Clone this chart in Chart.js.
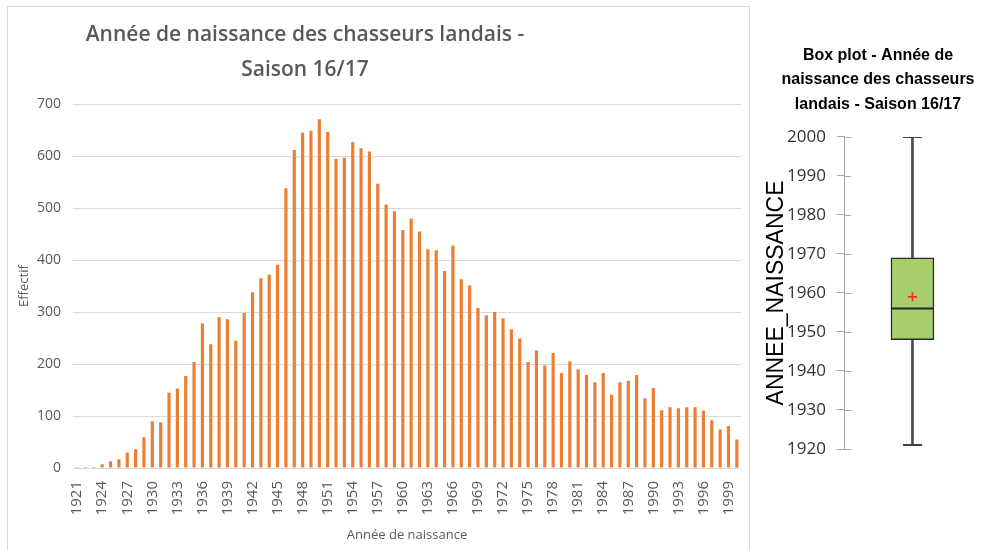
<!DOCTYPE html>
<html>
<head>
<meta charset="utf-8">
<script src="https://cdn.jsdelivr.net/npm/chart.js@4.4.1/dist/chart.umd.min.js"></script>
<style>
  html, body { margin: 0; padding: 0; background: #ffffff; }
  body { width: 992px; height: 550px; position: relative; overflow: hidden; }
  #leftBox { position: absolute; left: 7px; top: 6px; width: 741px; height: 560px; border: 1px solid #d9d9d9; }
  #leftBox canvas { position: absolute; left: 0; top: 0; }
  #rightBox { position: absolute; left: 752px; top: 0; width: 240px; height: 550px; }
</style>
</head>
<body>
<div id="leftBox"><canvas id="histo" width="741" height="543"></canvas></div>
<div id="rightBox"><canvas id="boxplot" width="240" height="550"></canvas></div>
<script>
// ---------- Data ----------
const years = ['1921','1922','1923','1924','1925','1926','1927','1928','1929','1930',
  '1931','1932','1933','1934','1935','1936','1937','1938','1939','1940',
  '1941','1942','1943','1944','1945','1946','1947','1948','1949','1950',
  '1951','1952','1953','1954','1955','1956','1957','1958','1959','1960',
  '1961','1962','1963','1964','1965','1966','1967','1968','1969','1970',
  '1971','1972','1973','1974','1975','1976','1977','1978','1979','1980',
  '1981','1982','1983','1984','1985','1986','1987','1988','1989','1990',
  '1991','1992','1993','1994','1995','1996','1997','1998','1999','2000'];

const effectif = [2, 2, 2, 7, 13, 17, 30, 36, 59, 90,
  88, 145, 153, 177, 204, 278, 238, 290, 286, 245,
  298, 338, 365, 372, 391, 538, 612, 645, 649, 671,
  647, 595, 597, 627, 615, 609, 547, 507, 494, 458,
  480, 455, 421, 419, 379, 428, 363, 351, 308, 294,
  300, 288, 267, 249, 204, 226, 197, 221, 183, 205,
  190, 179, 165, 183, 141, 165, 168, 179, 134, 154,
  111, 117, 115, 117, 117, 110, 92, 74, 81, 55];

const shownYearLabels = ['1921','1924','1927','1930','1933','1936','1939','1942','1945','1948',
  '1951','1954','1957','1960','1963','1966','1969','1972','1975','1978',
  '1981','1984','1987','1990','1993','1996','1999'];

const histoTitle = ['Année de naissance des chasseurs landais -', 'Saison 16/17'];
const histoXTitle = 'Année de naissance';
const histoYTitle = 'Effectif';

// Box plot statistics (year of birth)
const boxMin = 1921;
const boxQ1 = 1948;
const boxMedian = 1956;
const boxMean = 1959;
const boxQ3 = 1969;
const boxMax = 2000;
const boxTitle = ['Box plot - Année de', 'naissance des chasseurs', 'landais - Saison 16/17'];
const boxYTitle = 'ANNEE_NAISSANCE';

// ---------- Left chart: histogram ----------
const GREY = '#595959';
const OPEN = "'Open Sans', 'DejaVu Sans', sans-serif";
const ARIAL = "'Liberation Sans', Arial, sans-serif";

const shiftTitle = {
  id: 'shiftTitle',
  afterLayout(chart) {
    const t = chart.titleBlock;
    if (t) { t.left = 0; t.right = 594; }
  }
};

new Chart(document.getElementById('histo'), {
  type: 'bar',
  data: {
    labels: years,
    datasets: [{
      data: effectif,
      backgroundColor: '#ED7D31',
      barPercentage: 0.38,
      categoryPercentage: 1
    }]
  },
  options: {
    responsive: false,
    animation: false,
    layout: { padding: { left: 0, right: 8, top: 0, bottom: 0 } },
    plugins: {
      legend: { display: false },
      tooltip: { enabled: false },
      title: {
        display: true,
        text: histoTitle,
        color: GREY,
        font: { family: OPEN, size: 21, weight: '600', lineHeight: 1.67 },
        padding: { top: 10, bottom: 17 }
      }
    },
    scales: {
      x: {
        grid: { display: false },
        border: { display: false },
        ticks: {
          autoSkip: false,
          minRotation: 90,
          maxRotation: 90,
          padding: 5,
          color: GREY,
          font: { family: OPEN, size: 15 },
          callback: function (value, index) {
            const lab = years[index];
            return shownYearLabels.includes(lab) ? lab : '';
          }
        },
        title: {
          display: true,
          text: histoXTitle,
          color: GREY,
          font: { family: OPEN, size: 13 },
          padding: { top: 0, bottom: 7 }
        },
        afterFit(scale) {
          scale.height = 82;
          scale.paddingLeft = 0;
          scale.paddingRight = 0;
        }
      },
      y: {
        min: 0,
        max: 700,
        ticks: { stepSize: 100, color: GREY, font: { family: OPEN, size: 14 }, padding: 12 },
        grid: { color: '#d9d9d9', drawTicks: false },
        border: { display: false },
        title: {
          display: true,
          text: histoYTitle,
          color: GREY,
          font: { family: OPEN, size: 13 },
          padding: { top: 8, bottom: 0 }
        },
        afterFit(scale) { scale.width = 65; }
      }
    }
  },
  plugins: [shiftTitle]
});

// ---------- Right chart: box plot ----------
const tickExtension = {
  id: 'tickExtension',
  afterDraw(chart) {
    const s = chart.scales.y;
    const ctx = chart.ctx;
    ctx.save();
    ctx.strokeStyle = '#a6a6a6';
    ctx.lineWidth = 1;
    s.ticks.forEach(t => {
      const y = Math.round(s.getPixelForValue(t.value)) + 0.5;
      ctx.beginPath();
      ctx.moveTo(s.right, y);
      ctx.lineTo(s.right + 7, y);
      ctx.stroke();
    });
    ctx.restore();
  }
};

new Chart(document.getElementById('boxplot'), {
  type: 'bar',
  data: {
    datasets: [
      { type: 'scatter', data: [{ x: 0, y: boxMean }], pointStyle: 'cross', pointRadius: 4.5,
        borderColor: '#ff2a2a', backgroundColor: '#ff2a2a', borderWidth: 1.6, order: 0 },
      { type: 'scatter', data: [{ x: 0, y: boxMedian }], pointStyle: 'line', pointRadius: 21.5,
        borderColor: '#262626', borderWidth: 2, order: 1 },
      { type: 'bar', data: [{ x: 0, y: [boxQ1, boxQ3] }], backgroundColor: '#a6cf6c',
        borderColor: '#2b2b2b', borderWidth: 1.5, borderSkipped: false, barThickness: 43, grouped: false, order: 2 },
      { type: 'scatter', data: [{ x: 0, y: boxMin }, { x: 0, y: boxMax }], pointStyle: 'line', pointRadius: 9.5,
        borderColor: '#404040', borderWidth: 2, order: 3 },
      { type: 'bar', data: [{ x: 0, y: [boxMin, boxMax] }], backgroundColor: '#4a4a4a',
        barThickness: 2, grouped: false, order: 4 }
    ]
  },
  options: {
    responsive: false,
    animation: false,
    layout: { padding: { left: 12, right: 0, top: 0, bottom: 101 } },
    plugins: {
      legend: { display: false },
      tooltip: { enabled: false },
      title: {
        display: true,
        text: boxTitle,
        color: '#000000',
        font: { family: ARIAL, size: 16, weight: 'bold', lineHeight: 1.53 },
        padding: { top: 43, bottom: 20.5 }
      }
    },
    scales: {
      x: { type: 'linear', min: -1, max: 0.74, display: false },
      y: {
        min: 1920,
        max: 2000,
        ticks: {
          stepSize: 10,
          color: '#333333',
          font: { family: OPEN, size: 17 },
          padding: 11,
          callback: function (value) { return String(value); }
        },
        grid: { drawOnChartArea: false, drawTicks: true, tickLength: 7, color: '#a6a6a6' },
        border: { display: true, color: '#a6a6a6' },
        title: {
          display: true,
          text: boxYTitle,
          color: '#000000',
          font: { family: ARIAL, size: 23, lineHeight: 1 },
          padding: { top: 1.5, bottom: 0 }
        },
        afterFit(scale) { scale.width = 80; }
      }
    }
  },
  plugins: [tickExtension]
});
</script>
</body>
</html>
